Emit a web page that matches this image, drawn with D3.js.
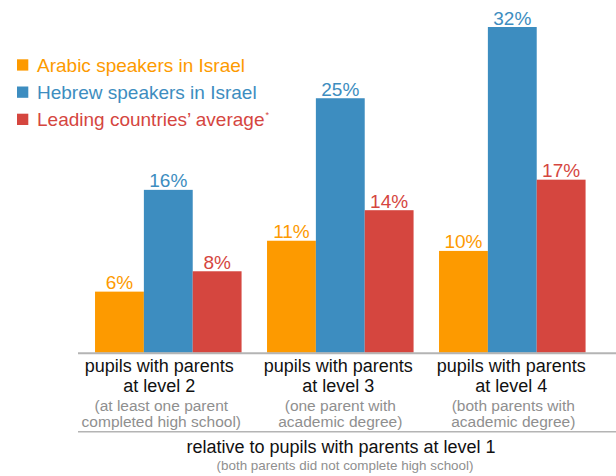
<!DOCTYPE html>
<html>
<head>
<meta charset="utf-8">
<script src="https://cdn.jsdelivr.net/npm/d3@7"></script>
<style>
  html, body { margin: 0; padding: 0; background: #fff; }
  svg { display: block; font-family: "Liberation Sans", Arial, sans-serif; }
</style>
</head>
<body>
<div id="chart"></div>
<script>
// Data
const groups = ['level2', 'level3', 'level4'];
const groupTitles = [
    ['pupils with parents', 'at level 2'],
    ['pupils with parents', 'at level 3'],
    ['pupils with parents', 'at level 4']
];
const groupNotes = [
    ['(at least one parent', 'completed high school)'],
    ['(one parent with', 'academic degree)'],
    ['(both parents with', 'academic degree)']
];
const seriesNames = ['Arabic speakers in Israel', 'Hebrew speakers in Israel', 'Leading countries\u2019 average'];
const seriesColors = ['#fd9a00', '#3d8dc0', '#d5463f'];
const arabicValues = [6, 11, 10];
const hebrewValues = [16, 25, 32];
const leadingValues = [8, 14, 17];
const footTitle = 'relative to pupils with parents at level 1';
const footNote = '(both parents did not complete high school)';

const width = 616, height = 476;
const baseline = 352.7;

const svg = d3.select('#chart')
    .append('svg')
    .attr('width', width)
    .attr('height', height);

// Scales
const x0 = d3.scaleBand()
    .domain(groups)
    .range([82.3, 598.3])
    .paddingInner(0.148)
    .paddingOuter(0.074);

const x1 = d3.scaleBand()
    .domain(d3.range(seriesNames.length))
    .range([0, x0.bandwidth()]);

const y = d3.scaleLinear()
    .domain([0, 32])
    .range([baseline, 27]);

const table = groups.map((g, i) => ({
    group: g,
    values: [arabicValues[i], hebrewValues[i], leadingValues[i]]
}));

// Bars
const groupSel = svg.selectAll('.group')
    .data(table)
    .enter()
    .append('g')
    .attr('class', 'group')
    .attr('transform', d => `translate(${x0(d.group)},0)`);

groupSel.selectAll('rect')
    .data(d => d.values.map((v, s) => ({ v, s })))
    .enter()
    .append('rect')
    .attr('x', d => x1(d.s))
    .attr('y', d => y(d.v))
    .attr('width', x1.bandwidth())
    .attr('height', d => baseline - y(d.v))
    .attr('fill', d => seriesColors[d.s]);

// Value labels
groupSel.selectAll('text')
    .data(d => d.values.map((v, s) => ({ v, s })))
    .enter()
    .append('text')
    .attr('x', d => x1(d.s) + x1.bandwidth() / 2)
    .attr('y', d => y(d.v) - 2.5)
    .attr('text-anchor', 'middle')
    .style('font-size', '19px')
    .style('fill', d => seriesColors[d.s])
    .text(d => `${d.v}%`);

// Axis lines
svg.append('line')
    .attr('x1', 78).attr('x2', width)
    .attr('y1', baseline + 0.5).attr('y2', baseline + 0.5)
    .attr('stroke', '#b4b4b4')
    .attr('stroke-width', 2);

svg.append('line')
    .attr('x1', 78).attr('x2', width)
    .attr('y1', 431.7).attr('y2', 431.7)
    .attr('stroke', '#b4b4b4')
    .attr('stroke-width', 1.5);

// Category labels
const labelShift = [-9, -2, -1];
groups.forEach((g, i) => {
    const cx = x0(g) + x0.bandwidth() / 2 + labelShift[i];
    groupTitles[i].forEach((t, j) => {
        svg.append('text')
            .attr('x', cx)
            .attr('y', 371.7 + j * 20)
            .attr('text-anchor', 'middle')
            .style('font-size', '18px')
            .style('fill', '#111')
            .text(t);
    });
    groupNotes[i].forEach((t, j) => {
        svg.append('text')
            .attr('x', cx + 2)
            .attr('y', 411 + j * 16.3)
            .attr('text-anchor', 'middle')
            .style('font-size', '15.5px')
            .style('fill', '#8f8f8f')
            .text(t);
    });
});

// Footer
svg.append('text')
    .attr('x', 341)
    .attr('y', 453.3)
    .attr('text-anchor', 'middle')
    .style('font-size', '18px')
    .style('fill', '#111')
    .text(footTitle);

svg.append('text')
    .attr('x', 345)
    .attr('y', 470)
    .attr('text-anchor', 'middle')
    .style('font-size', '13.4px')
    .style('fill', '#8f8f8f')
    .text(footNote);

// Legend
const legend = svg.append('g')
    .attr('class', 'legend')
    .attr('transform', 'translate(17, 0)');

seriesNames.forEach((name, i) => {
    const row = legend.append('g')
        .attr('transform', `translate(0, ${71.7 + i * 27.2})`);
    row.append('rect')
        .attr('x', 0)
        .attr('y', -12.4)
        .attr('width', 11.3)
        .attr('height', 11.3)
        .attr('fill', seriesColors[i]);
    const txt = row.append('text')
        .attr('x', 20)
        .attr('y', 0)
        .style('font-size', '19px')
        .style('fill', seriesColors[i])
        .text(name);
    if (i === 2) {
        txt.append('tspan')
            .attr('dx', 1)
            .attr('dy', -8)
            .style('font-size', '9px')
            .text('*');
    }
});
</script>
</body>
</html>
